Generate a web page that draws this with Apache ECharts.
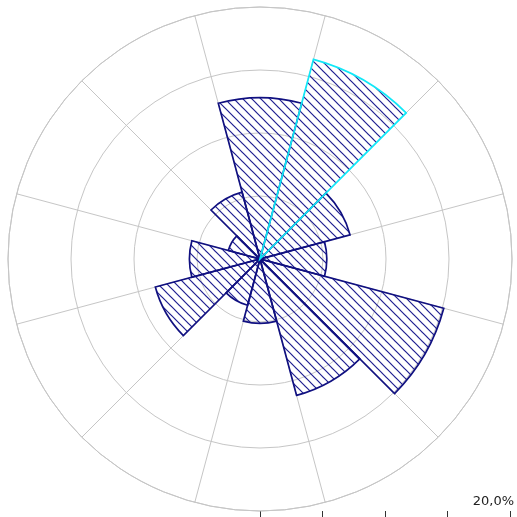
<!DOCTYPE html>
<html>
<head>
<meta charset="utf-8">
<script src="https://cdn.jsdelivr.net/npm/echarts@6/dist/echarts.min.js"></script>
<style>
html,body{margin:0;padding:0;background:#fff;}
#chart{width:517px;height:517px;}
</style>
</head>
<body>
<div id="chart"></div>
<script>
// Wind direction sectors (30° each, first one centred on north, clockwise)
const categories = ['N', 'NNE', 'ENE', 'E', 'ESE', 'SSE', 'S', 'SSW', 'WSW', 'W', 'WNW', 'NNW'];
// Frequency per sector, in percent
const frequency = [12.8, 16.4, 7.4, 5.3, 15.1, 11.2, 5.1, 3.8, 8.6, 5.6, 2.6, 5.5];
// Highlighted (selected) sector
const selectedIndex = 1;
// Radius scale
const radiusMin = 0;
const radiusMax = 20;
const radiusStep = 5;

function hatch(color, size) {
  const c = document.createElement('canvas');
  c.width = size; c.height = size;
  const ctx = c.getContext('2d');
  ctx.strokeStyle = color;
  ctx.lineWidth = 1.2;
  for (let k = -1; k <= 1; k++) {
    ctx.beginPath();
    ctx.moveTo(-size, -size + k * size);
    ctx.lineTo(2 * size, 2 * size + k * size);
    ctx.stroke();
  }
  return c;
}

const pattern = { image: hatch('#1e1e90', 9), repeat: 'repeat' };

const baseData = frequency.map((v, i) => (i === selectedIndex ? '-' : v));
const selData = frequency.map((v, i) => (i === selectedIndex ? v : '-'));

const chart = echarts.init(document.getElementById('chart'), null, { renderer: 'canvas' });
const gridGray = '#c6c6c6';
chart.setOption({
  animation: false,
  backgroundColor: '#ffffff',
  polar: { center: [260, 259], radius: 252 },
  angleAxis: {
    type: 'category',
    data: categories,
    startAngle: 105,
    clockwise: true,
    boundaryGap: true,
    axisLine: { show: true, lineStyle: { color: gridGray, width: 1 } },
    axisTick: { show: false },
    axisLabel: { show: false },
    splitLine: { show: true, lineStyle: { color: gridGray, width: 1 } },
    z: 1
  },
  radiusAxis: {
    type: 'value',
    min: radiusMin,
    max: radiusMax,
    interval: radiusStep,
    axisLine: { show: false },
    axisTick: { show: false },
    axisLabel: { show: false },
    splitLine: { show: true, lineStyle: { color: gridGray, width: 1 } }
  },
  grid: { left: 260, width: 252, top: 450, bottom: 6 },
  xAxis: {
    type: 'value',
    min: radiusMin,
    max: radiusMax,
    interval: radiusStep,
    position: 'bottom',
    axisLine: { show: false },
    splitLine: { show: false },
    axisTick: { show: true, inside: false, length: 7, lineStyle: { color: '#333', width: 1 } },
    axisLabel: {
      show: true,
      inside: true,
      margin: 3,
      align: 'right',
      padding: [0, -4, 0, 0],
      showMaxLabel: true,
      color: '#222',
      fontSize: 13,
      fontFamily: 'DejaVu Sans',
      formatter: function (v) {
        return v === radiusMax ? v.toFixed(1).replace('.', ',') + '%' : '';
      }
    }
  },
  yAxis: { type: 'value', show: false },
  series: [
    {
      type: 'bar',
      coordinateSystem: 'polar',
      data: baseData,
      barCategoryGap: '0%',
      barGap: '-100%',
      itemStyle: { color: pattern, borderColor: '#101080', borderWidth: 1.7 },
      z: 2
    },
    {
      type: 'bar',
      coordinateSystem: 'polar',
      data: selData,
      barCategoryGap: '0%',
      barGap: '-100%',
      itemStyle: { color: pattern, borderColor: '#10e8f8', borderWidth: 1.7 },
      z: 3
    }
  ]
});
</script>
</body>
</html>
